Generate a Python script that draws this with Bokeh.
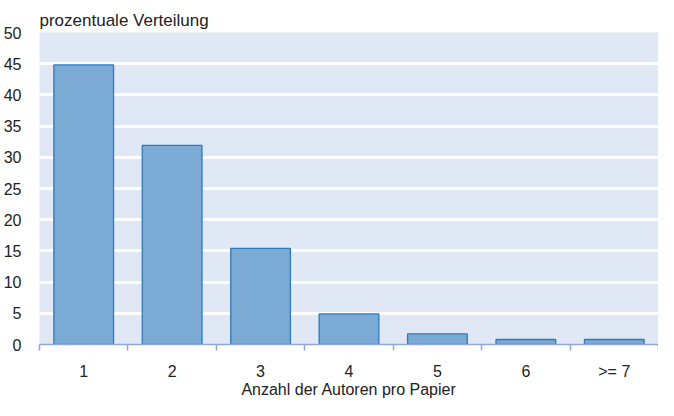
from bokeh.plotting import figure
from bokeh.models import FixedTicker, Range1d
from bokeh.embed import file_html
from bokeh.resources import INLINE

categories = ["1", "2", "3", "4", "5", "6", ">= 7"]
values = [44.8, 31.9, 15.4, 4.9, 1.7, 0.8, 0.8]
y_ticks = [0, 5, 10, 15, 20, 25, 30, 35, 40, 45, 50]
x_title = "Anzahl der Autoren pro Papier"

xs = list(range(1, len(categories) + 1))

p = figure(width=658, height=400, output_backend="svg", toolbar_location=None,
           x_range=Range1d(0.5, len(categories) + 0.5), y_range=Range1d(0, 50),
           min_border_left=32, min_border_right=0, min_border_top=32, min_border_bottom=0)

p.border_fill_color = "white"
p.outline_line_color = None
p.background_fill_color = "#E1E8F5"

p.vbar(x=xs, top=values, width=0.675, bottom=0,
       fill_color="#7BAAD4", line_color="#2A7BC0", line_width=1.3)

# title
p.title.text = "prozentuale Verteilung"
p.title.align = "left"
p.title.text_font = "Liberation Sans"
p.title.text_font_size = "17px"
p.title.text_font_style = "normal"
p.title.text_color = "#222222"
p.title.standoff = 6

# y axis
p.yaxis.ticker = FixedTicker(ticks=y_ticks)
p.yaxis.axis_line_color = None
p.yaxis.major_tick_line_color = None
p.yaxis.minor_tick_line_color = None
p.yaxis.major_label_text_font = "Liberation Sans"
p.yaxis.major_label_text_font_size = "16px"
p.yaxis.major_label_text_color = "#222222"
p.yaxis.major_label_standoff = 12

# x axis
p.xaxis.ticker = FixedTicker(ticks=xs, minor_ticks=[x - 0.5 for x in xs] + [xs[-1] + 0.5])
p.xaxis.major_label_overrides = {x: c for x, c in zip(xs, categories)}
p.xaxis.major_tick_line_color = None
p.xaxis.major_tick_out = 0
p.xaxis.major_tick_in = 0
p.xaxis.minor_tick_line_color = "#8FA8D6"
p.xaxis.minor_tick_line_width = 1.5
p.xaxis.minor_tick_out = 6
p.xaxis.minor_tick_in = 0
p.xaxis.axis_line_color = "#8FA8D6"
p.xaxis.axis_line_width = 1.5
p.xaxis.major_label_text_font = "Liberation Sans"
p.xaxis.major_label_text_font_size = "16px"
p.xaxis.major_label_text_color = "#222222"
p.xaxis.major_label_standoff = 12
p.xaxis.axis_label = x_title
p.xaxis.axis_label_text_font = "Liberation Sans"
p.xaxis.axis_label_text_font_size = "16px"
p.xaxis.axis_label_text_font_style = "normal"
p.xaxis.axis_label_text_color = "#222222"
p.xaxis.axis_label_standoff = -2

# grid
p.xgrid.grid_line_color = None
p.ygrid.grid_line_color = "white"
p.ygrid.grid_line_width = 3
p.ygrid.level = "underlay"

open("out.html", "w").write(file_html(p, INLINE))
